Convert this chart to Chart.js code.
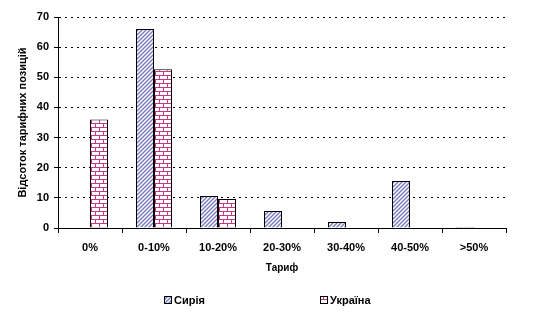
<!DOCTYPE html>
<html>
<head>
<meta charset="utf-8">
<script src="https://cdn.jsdelivr.net/npm/chart.js@4"></script>
<style>
  html, body { margin: 0; padding: 0; background: #fff; }
  #wrap { width: 537px; height: 325px; position: relative; }
</style>
</head>
<body>
<div id="wrap"><canvas id="chart" width="537" height="325"></canvas></div>
<script>
const categories = ['0%', '0-10%', '10-20%', '20-30%', '30-40%', '40-50%', '>50%'];
const syriaValues = [0, 66, 10.6, 5.6, 2, 15.6, 0.3];
const ukraineValues = [36, 52.7, 9.6, 0, 0, 0, 0];
const yTicks = [0, 10, 20, 30, 40, 50, 60, 70];

const FONT = '"Liberation Sans", Arial, sans-serif';

function makeHatch() {
    const c = document.createElement('canvas');
    c.width = 4; c.height = 4;
    const g = c.getContext('2d');
    g.fillStyle = '#fff';
    g.fillRect(0, 0, 4, 4);
    g.strokeStyle = '#7a7ac4';
    g.lineWidth = 1.4;
    g.beginPath();
    g.moveTo(0, 4); g.lineTo(4, 0);
    g.moveTo(-1, 1); g.lineTo(1, -1);
    g.moveTo(3, 5); g.lineTo(5, 3);
    g.stroke();
    return g.createPattern(c, 'repeat');
}

function makeBrick() {
    const c = document.createElement('canvas');
    c.width = 8; c.height = 8;
    const g = c.getContext('2d');
    g.fillStyle = '#fff';
    g.fillRect(0, 0, 8, 8);
    g.fillStyle = '#c23c82';
    g.fillRect(0, 3, 8, 1);
    g.fillRect(0, 7, 8, 1);
    g.fillRect(3, 0, 1, 3);
    g.fillRect(7, 4, 1, 3);
    return g.createPattern(c, 'repeat');
}

const hatch = makeHatch();
const brick = makeBrick();

// legend drawn by hand so the two items can sit far apart
const legendPlugin = {
    id: 'farLegend',
    afterDraw(chart) {
        const ctx = chart.ctx;
        const items = [
            { label: 'Сирія', fill: hatch, x: 164 },
            { label: 'Україна', fill: brick, x: 320 }
        ];
        ctx.save();
        ctx.font = 'bold 11px ' + FONT;
        ctx.textBaseline = 'middle';
        for (const it of items) {
            ctx.fillStyle = it.fill;
            ctx.fillRect(it.x, 296, 7, 7);
            ctx.strokeStyle = '#000';
            ctx.lineWidth = 1;
            ctx.strokeRect(it.x + 0.5, 296.5, 7, 7);
            ctx.fillStyle = '#000';
            ctx.fillText(it.label, it.x + 10, 300.5);
        }
        ctx.restore();
    }
};

new Chart(document.getElementById('chart'), {
    type: 'bar',
    data: {
        labels: categories,
        datasets: [
            {
                label: 'Сирія',
                data: syriaValues,
                backgroundColor: hatch,
                borderColor: '#000',
                borderWidth: 1,
                borderSkipped: 'bottom'
            },
            {
                label: 'Україна',
                data: ukraineValues,
                backgroundColor: brick,
                borderColor: '#000',
                borderWidth: 1,
                borderSkipped: 'bottom'
            }
        ]
    },
    plugins: [legendPlugin],
    options: {
        responsive: false,
        animation: false,
        devicePixelRatio: 1,
        layout: { padding: { top: 17, right: 31, bottom: 47, left: 0 } },
        datasets: {
            bar: { barPercentage: 1, categoryPercentage: 0.5625 }
        },
        plugins: {
            legend: { display: false },
            tooltip: { enabled: false }
        },
        scales: {
            x: {
                offset: true,
                afterFit(s) { s.height = 50; },
                grid: {
                    offset: true,
                    drawOnChartArea: false,
                    drawTicks: true,
                    tickLength: 5,
                    tickColor: '#000',
                    tickBorderDash: []
                },
                border: { color: '#000', width: 1 },
                ticks: {
                    color: '#000',
                    padding: 8,
                    maxRotation: 0,
                    autoSkip: false,
                    font: { family: FONT, size: 11, weight: 'bold' }
                },
                title: {
                    display: true,
                    text: 'Тариф',
                    color: '#000',
                    padding: { top: 0, bottom: 4 },
                    font: { family: FONT, size: 10, weight: 'bold' }
                }
            },
            y: {
                min: 0,
                max: 70,
                afterFit(s) { s.width = 58; },
                afterBuildTicks(s) { s.ticks = yTicks.map(v => ({ value: v })); },
                grid: {
                    color: '#000',
                    tickLength: 4,
                    tickColor: '#000',
                    tickBorderDash: []
                },
                border: { color: '#000', width: 1, dash: [2, 4] },
                ticks: {
                    color: '#000',
                    padding: 5,
                    font: { family: FONT, size: 11, weight: 'bold' }
                },
                title: {
                    display: true,
                    text: 'Відсоток тарифних позицій',
                    color: '#000',
                    padding: { top: 16, bottom: 0 },
                    font: { family: FONT, size: 11, weight: 'bold' }
                }
            }
        }
    }
});
</script>
</body>
</html>
